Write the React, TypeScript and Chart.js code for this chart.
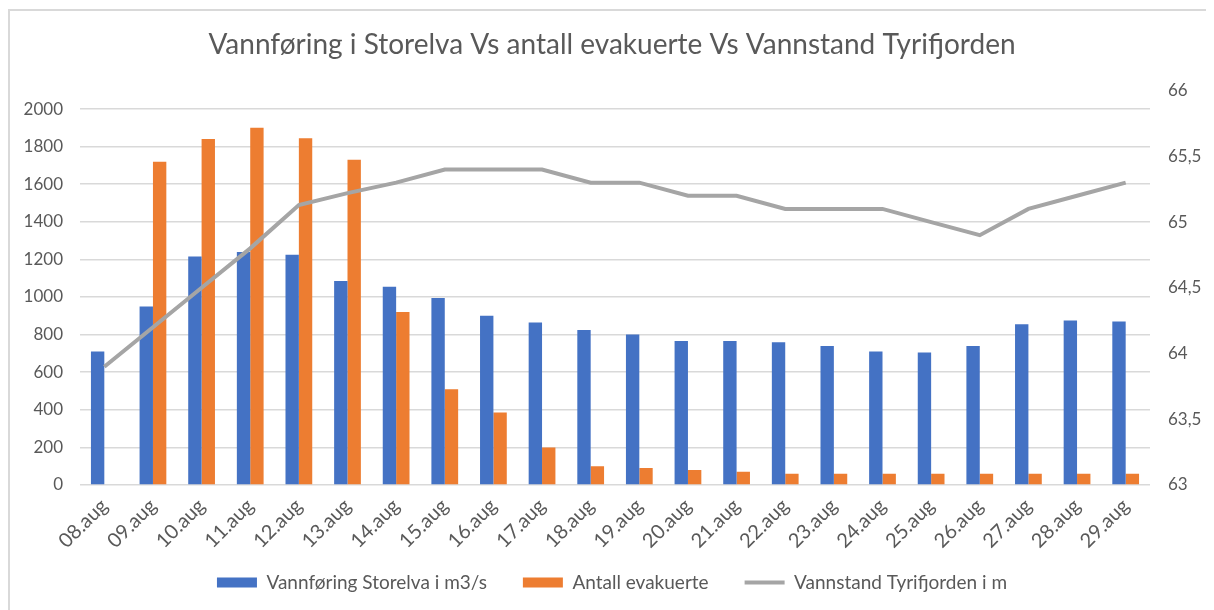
import React, { useEffect, useRef } from "react";
import { Chart, registerables } from "chart.js";

Chart.register(...registerables);

const categories = [
  "08.aug", "09.aug", "10.aug", "11.aug", "12.aug", "13.aug", "14.aug", "15.aug",
  "16.aug", "17.aug", "18.aug", "19.aug", "20.aug", "21.aug", "22.aug", "23.aug",
  "24.aug", "25.aug", "26.aug", "27.aug", "28.aug", "29.aug",
];

const vannforing = [
  710, 950, 1215, 1240, 1225, 1085, 1055, 995, 900, 865, 825, 800, 766, 766, 760,
  740, 710, 705, 740, 855, 875, 870,
];

const evakuerte = [
  null, 1720, 1840, 1900, 1845, 1730, 920, 510, 385, 200, 100, 90, 80, 70, 60, 60,
  60, 60, 60, 60, 60, 60,
];

const vannstand = [
  63.9, 64.2, 64.5, 64.8, 65.13, 65.22, 65.3, 65.4, 65.4, 65.4, 65.3, 65.3, 65.2,
  65.2, 65.1, 65.1, 65.1, 65.0, 64.9, 65.1, 65.2, 65.3,
];

const leftTicks = [0, 200, 400, 600, 800, 1000, 1200, 1400, 1600, 1800, 2000];

const TEXT = "#595959";
const FONT = "Lato";

export default function App() {
  const ref = useRef<HTMLCanvasElement | null>(null);

  useEffect(() => {
    if (!ref.current) return;
    const chart = new Chart(ref.current, {
      type: "bar",
      data: {
        labels: categories,
        datasets: [
          {
            type: "bar",
            label: "Vannføring Storelva i m3/s",
            data: vannforing,
            backgroundColor: "#4472C4",
            borderWidth: 0,
            yAxisID: "y",
            order: 1,
            pointStyle: "rect",
          },
          {
            type: "bar",
            label: "Antall evakuerte",
            data: evakuerte,
            backgroundColor: "#ED7D31",
            borderWidth: 0,
            yAxisID: "y",
            order: 1,
            pointStyle: "rect",
          },
          {
            type: "line",
            label: "Vannstand Tyrifjorden i m",
            data: vannstand,
            borderColor: "#A5A5A5",
            backgroundColor: "#A5A5A5",
            borderWidth: 4,
            pointRadius: 0,
            tension: 0,
            yAxisID: "y1",
            order: 0,
            pointStyle: "line",
          } as any,
        ],
      },
      options: {
        animation: false,
        responsive: false,
        datasets: {
          bar: { categoryPercentage: 0.55, barPercentage: 1 },
        },
        layout: { padding: { left: 0, right: 0, top: 0, bottom: 8 } },
        plugins: {
          title: {
            display: true,
            text: "Vannføring i Storelva Vs antall evakuerte Vs Vannstand Tyrifjorden",
            color: TEXT,
            font: { family: FONT, size: 28, weight: "normal" },
            padding: { top: 17, bottom: 29 },
          },
          legend: {
            position: "bottom",
            labels: {
              usePointStyle: true,
              pointStyleWidth: 40,
              boxHeight: 10,
              color: TEXT,
              font: { family: FONT, size: 19 },
              padding: 36,
              sort: (a: any, b: any) => a.datasetIndex - b.datasetIndex,
            },
          },
          tooltip: { enabled: false },
        },
        scales: {
          x: {
            grid: { display: false, drawTicks: false },
            border: { display: false },
            ticks: {
              color: TEXT,
              font: { family: FONT, size: 20 },
              maxRotation: 45,
              minRotation: 45,
              padding: 9,
              autoSkip: false,
            },
            afterFit: (s: any) => {
              s.height = 52;
              s._computeLabelArea = () => null;
            },
          },
          y: {
            position: "left",
            min: 0,
            max: 2098,
            grid: { color: "#d9d9d9", lineWidth: 1.5, drawTicks: false },
            border: { display: false },
            ticks: {
              color: TEXT,
              font: { family: FONT, size: 17 },
              padding: 17,
              stepSize: 200,
              callback: (v: any) => String(v),
            },
            afterBuildTicks: (s: any) => {
              s.ticks = leftTicks.map((v) => ({ value: v }));
            },
            afterFit: (s: any) => {
              s.width = 70;
            },
          },
          y1: {
            position: "right",
            min: 63,
            max: 66,
            grid: { display: false, drawTicks: false },
            border: { display: false },
            ticks: {
              color: TEXT,
              font: { family: FONT, size: 17 },
              padding: 18,
              stepSize: 0.5,
              callback: (v: any) => String(v).replace(".", ","),
            },
            afterFit: (s: any) => {
              s.width = 64;
            },
          },
        },
      },
    });
    return () => chart.destroy();
  }, []);

  return (
    <div
      style={{
        width: 1204,
        height: 599,
        marginTop: 1,
        borderTop: "2px solid #d9d9d9",
        borderLeft: "2px solid #d9d9d9",
        background: "#fff",
      }}
    >
      <canvas ref={ref} width={1204} height={599} style={{ display: "block" }} />
    </div>
  );
}
